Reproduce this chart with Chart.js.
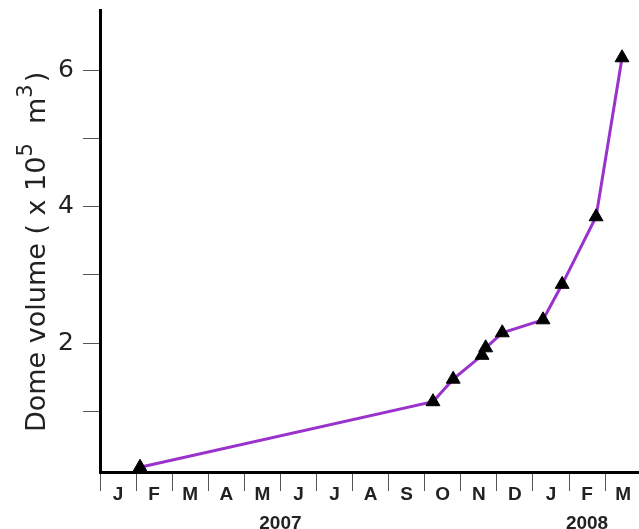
<!DOCTYPE html>
<html>
<head>
<meta charset="utf-8">
<script src="https://cdn.jsdelivr.net/npm/chart.js@4/dist/chart.umd.min.js"></script>
<style>
  html, body { margin: 0; padding: 0; background: #fff; }
  #wrap { width: 639px; height: 529px; position: relative; }
</style>
</head>
<body>
<div id="wrap"><canvas id="c"></canvas></div>
<script>
// Survey dates, in months counted from 1 January 2007
const surveyMonth = [1.11, 9.23, 9.79, 10.59, 10.69, 11.15, 12.28, 12.81, 13.75, 14.47];
// Dome volume, in units of 10^5 m^3
const domeVolume = [0.18, 1.14, 1.47, 1.82, 1.93, 2.15, 2.34, 2.86, 3.85, 6.18];

// Month initials, Jan 2007 .. Mar 2008 (drawn centred inside each month)
const monthLabels = ['J', 'F', 'M', 'A', 'M', 'J', 'J', 'A', 'S', 'O', 'N', 'D', 'J', 'F', 'M'];
// Year captions and the month position each one sits under
const yearLabels = ['2007', '2008'];
const yearAt = [5, 13.5];
// Labelled volume ticks
const volumeTickLabels = [2, 4, 6];

// Axis title pieces: [text, superscript?]
const titleParts = [['Dome volume ( x 10', false], ['5', true], ['  m', false], ['3', true], [')', false]];

const TEXT = '#222';
const GOTHIC = '"DejaVu Sans", sans-serif';

const points = surveyMonth.map((m, i) => ({ x: m, y: domeVolume[i] }));

const volumeTitle = {
  id: 'volumeTitle',
  afterDraw(chart) {
    const ctx = chart.ctx;
    ctx.save();
    ctx.translate(45, 432);
    ctx.rotate(-Math.PI / 2);
    ctx.fillStyle = TEXT;
    ctx.textBaseline = 'alphabetic';
    ctx.textAlign = 'left';
    let x = 0;
    for (const [t, sup] of titleParts) {
      ctx.font = (sup ? '21px ' : '27px ') + GOTHIC;
      ctx.fillText(t, x, sup ? -13 : 0);
      x += ctx.measureText(t).width + (sup ? 2 : 0);
    }
    ctx.restore();
  }
};

function xLabel(v) {
  const parts = [];
  const half = Math.abs(v - Math.floor(v) - 0.5) < 1e-6;
  parts.push(half ? (monthLabels[Math.floor(v)] || '') : '');
  const yi = yearAt.findIndex(p => Math.abs(p - v) < 1e-6);
  if (yi >= 0) parts.push(yearLabels[yi]);
  return parts.length > 1 ? parts : parts[0];
}

new Chart(document.getElementById('c'), {
  type: 'line',
  data: {
    datasets: [{
      data: points,
      borderColor: '#9933cc',
      borderWidth: 3,
      tension: 0,
      pointStyle: 'triangle',
      pointRadius: 8,
      pointBorderWidth: 1,
      pointBackgroundColor: '#000',
      pointBorderColor: '#000',
      clip: false
    }]
  },
  options: {
    responsive: true,
    maintainAspectRatio: false,
    animation: false,
    events: [],
    layout: { autoPadding: false, padding: { top: 10, right: 0, left: 0, bottom: 0 } },
    plugins: { legend: { display: false }, tooltip: { enabled: false } },
    scales: {
      x: {
        type: 'linear',
        min: 0,
        max: 14.94,
        afterFit(scale) {
          scale.height = 57;
          scale.paddingLeft = 0;
          scale.paddingRight = 0;
        },
        border: { display: true, color: '#000', width: 3 },
        grid: {
          drawOnChartArea: false,
          drawTicks: true,
          tickLength: 19,
          tickWidth: 1,
          tickColor: (c) => (c.tick && Number.isInteger(c.tick.value)) ? '#555' : 'rgba(0,0,0,0)'
        },
        ticks: {
          stepSize: 0.5,
          includeBounds: false,
          autoSkip: false,
          maxRotation: 0,
          minRotation: 0,
          padding: -10,
          color: TEXT,
          font: { family: '"Liberation Sans", Arial, sans-serif', size: 19, weight: 'bold', lineHeight: 1.5 },
          callback: (v) => xLabel(v)
        }
      },
      y: {
        type: 'linear',
        min: 0.11,
        max: 6.88,
        afterFit(scale) {
          scale.width = 100;
          scale.paddingTop = 0;
          scale.paddingBottom = 0;
        },
        border: { display: true, color: '#000', width: 3 },
        grid: {
          drawOnChartArea: false,
          drawTicks: true,
          tickLength: 17,
          tickWidth: 1,
          tickColor: '#555'
        },
        ticks: {
          stepSize: 1,
          includeBounds: false,
          padding: 9,
          color: TEXT,
          font: { family: GOTHIC, size: 25 },
          callback: (v) => volumeTickLabels.includes(v) ? String(v) : ''
        }
      }
    }
  },
  plugins: [volumeTitle]
});
</script>
</body>
</html>
